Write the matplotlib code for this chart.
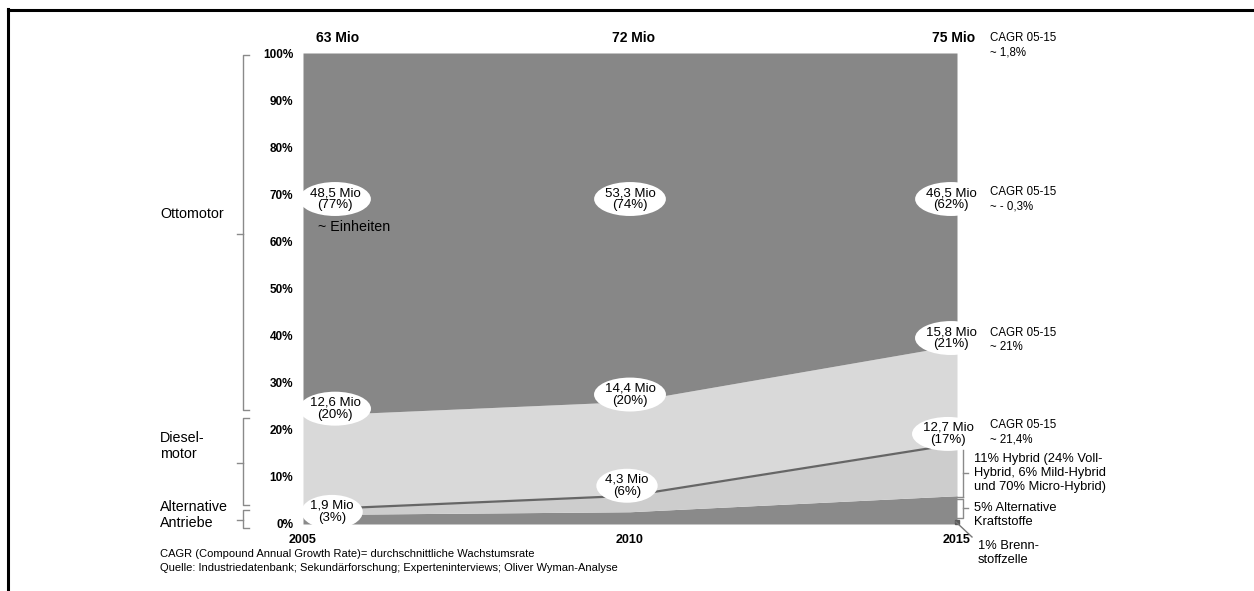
import numpy as np
import matplotlib.pyplot as plt
from matplotlib.lines import Line2D

plt.rcParams['font.family'] = ['Liberation Sans', 'DejaVu Sans']

# Pkw-Antriebe weltweit, Anteile in % vom Gesamtmarkt
years = [2005, 2010, 2015]
total_mio = [63, 72, 75]
otto_mio = [48.5, 53.3, 46.5]
otto_pct = [77, 74, 62]
diesel_mio = [12.6, 14.4, 15.8]
diesel_pct = [20, 20, 21]
alt_mio = [1.9, 4.3, 12.7]
alt_pct = [3, 6, 17]
# Aufteilung der alternativen Antriebe
fuelcell_pct = [0, 0, 1]
altfuel_pct = [2, 2.6, 5]
hybrid_pct = [1, 3.4, 11]
cagr = ['~ 1,8%', '~ - 0,3%', '~ 21%', '~ 21,4%']

W, H = 1254, 591
fig = plt.figure(figsize=(W / 100, H / 100), dpi=100)


def P(x, y):
    return x / W, 1 - y / H


def ftext(x, y, s, **kw):
    kw.setdefault('va', 'center')
    kw.setdefault('ha', 'left')
    fig.text(*P(x, y), s, **kw)


def fline(xs, ys, **kw):
    kw.setdefault('color', '#8a8a8a')
    kw.setdefault('lw', 1.0)
    fig.add_artist(Line2D([x / W for x in xs], [1 - y / H for y in ys], **kw))


ax = fig.add_axes([303 / W, 1 - 524 / H, (957 - 303) / W, (524 - 53) / H])
x = np.array(years)
fc = np.array(fuelcell_pct, float)
af = fc + np.array(altfuel_pct)
hy = af + np.array(hybrid_pct)
ds = hy + np.array(diesel_pct)

# Brennstoffzelle + alternative Kraftstoffe als ein dunkles Band
ax.fill_between(x, 0, af, color='#8a8a8a', lw=0)
ax.fill_between(x, af, hy, color='#cdcdcd', lw=0)
ax.fill_between(x, hy, ds, color='#d9d9d9', lw=0)
ax.fill_between(x, ds, 100, color='#878787', lw=0)
ax.plot(x, hy, color='#666666', lw=1.6)
ax.plot(x[-1:], fc[-1:] / 2, marker='s', ms=3, color='#5a5a5a', clip_on=False)

ax.set_xlim(2005, 2015)
ax.set_ylim(0, 100)
for s in ax.spines.values():
    s.set_visible(False)
ax.set_yticks(range(0, 101, 10))
ax.set_yticklabels([f'{v}%' for v in range(0, 101, 10)], fontsize=8.5, fontweight='bold')
ax.set_xticks(years)
ax.set_xticklabels([str(y) for y in years], fontsize=9, fontweight='bold')
ax.tick_params(length=0)
ax.tick_params(axis='y', pad=7)
ax.tick_params(axis='x', pad=7)

ell = dict(boxstyle='ellipse,pad=0.0', fc='white', ec='none')
lab = dict(textcoords='offset pixels', ha='center', va='center', fontsize=9.5,
           linespacing=1.0, bbox=ell, annotation_clip=False)
dx = [32, 0, -6]
for i, yr in enumerate(years):
    ax.annotate(f'{total_mio[i]} Mio', (yr, 100), xytext=(dx[i] + 3, 15),
                textcoords='offset pixels', ha='center', va='center',
                fontsize=10, fontweight='bold', annotation_clip=False)
    ax.annotate(f'{otto_mio[i]:.1f} Mio\n({otto_pct[i]}%)'.replace('.', ','),
                (yr, 69), xytext=(dx[i], 0), **lab)
    ax.annotate(f'{diesel_mio[i]:.1f} Mio\n({diesel_pct[i]}%)'.replace('.', ','),
                (yr, ds[i]), xytext=(dx[i], 7), **lab)
    ax.annotate(f'{alt_mio[i]:.1f} Mio\n({alt_pct[i]}%)'.replace('.', ','),
                (yr, hy[i]), xytext=(dx[i] - 3, [-2, 10, 10][i]), **lab)

ftext(318, 227, '~ Einheiten', fontsize=10.3)

# CAGR rechts
for yc, c in zip([45, 199, 340, 432], cagr):
    ftext(990, yc, 'CAGR 05-15\n' + c, fontsize=8.3, linespacing=1.25)

ftext(974, 473, '11% Hybrid (24% Voll-\nHybrid, 6% Mild-Hybrid\nund 70% Micro-Hybrid)',
      fontsize=9.3, linespacing=1.2)
ftext(974, 515, '5% Alternative\nKraftstoffe', fontsize=9.3, linespacing=1.15)
ftext(978, 553, '1% Brenn-\nstoffzelle', fontsize=9.3, linespacing=1.15)

fline([963, 963], [450, 497])
fline([957, 963], [497, 497])
fline([963, 968], [473, 473])
fline([957, 963, 963, 957], [499, 499, 518, 518])
fline([963, 968], [508, 508])
fline([956, 972], [522, 537], color='#777777')

# Klammern links
for y0, y1 in [(55, 410), (418, 505), (510, 528)]:
    fline([249, 243, 243, 249], [y0, y0, y1, y1])
    fline([237, 243], [(y0 + y1) / 2 + 1, (y0 + y1) / 2 + 1])

ftext(160, 214, 'Ottomotor', fontsize=10.3)
ftext(160, 446, 'Diesel-\nmotor', fontsize=10.3, linespacing=1.2)
ftext(160, 515, 'Alternative\nAntriebe', fontsize=10.3, linespacing=1.1)

ftext(160, 554, 'CAGR (Compound Annual Growth Rate)= durchschnittliche Wachstumsrate', fontsize=8)
ftext(160, 568, 'Quelle: Industriedatenbank; Sekundärforschung; Experteninterviews; '
      'Oliver Wyman-Analyse', fontsize=8)

# Rahmen
fline([8, W], [10, 10], color='black', lw=2.2)
fline([8, 8], [9, H], color='black', lw=2.2)

fig.savefig('out.png', dpi=100)
